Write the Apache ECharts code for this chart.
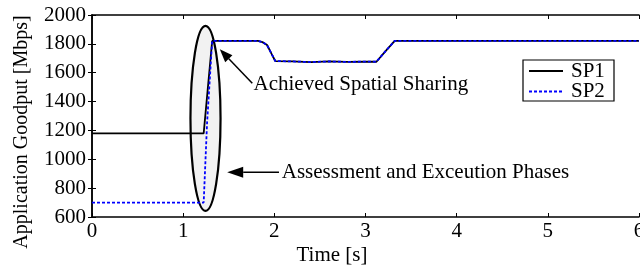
<!DOCTYPE html>
<html>
<head>
<meta charset="utf-8">
<script src="https://cdn.jsdelivr.net/npm/echarts@6/dist/echarts.min.js"></script>
<style>
html, body { margin: 0; padding: 0; background: #fff; }
#main { width: 640px; height: 269px; }
</style>
</head>
<body>
<div id="main"></div>
<script>
// time samples [s] and goodput [Mbps]
var timeSP1 = [0, 1.225, 1.318, 1.82, 1.87, 1.92, 1.97, 2.01, 2.2, 2.4, 2.6, 2.8, 3.0, 3.12, 3.22, 3.32, 6];
var valSP1  = [1180, 1180, 1820, 1820, 1812, 1792, 1730, 1681, 1678, 1674, 1678, 1675, 1677, 1676, 1750, 1820, 1820];
var timeSP2 = [0, 1.225, 1.262, 1.318, 1.82, 1.87, 1.92, 1.97, 2.01, 2.2, 2.4, 2.6, 2.8, 3.0, 3.12, 3.22, 3.32, 6];
var valSP2  = [700, 700, 1250, 1820, 1820, 1812, 1792, 1730, 1681, 1678, 1674, 1678, 1675, 1677, 1676, 1750, 1820, 1820];
var seriesNames = ['SP1', 'SP2'];

var FONT = 'Liberation Serif';
var TXT = '21px "Liberation Serif"';

function zip(xs, ys) {
    var out = [];
    for (var i = 0; i < xs.length; i++) out.push([xs[i], ys[i]]);
    return out;
}

var chart = echarts.init(document.getElementById('main'));

var axisBase = {
    axisLine: { show: true, lineStyle: { color: '#000', width: 1.5 } },
    axisTick: { show: true, inside: true, length: 4, lineStyle: { color: '#000', width: 1 } },
    splitLine: { show: false }
};
var plain = function (v) { return String(v); };

chart.setOption({
    animation: false,
    backgroundColor: '#fff',
    grid: { left: 92, right: 1, top: 15, bottom: 52, outerBoundsMode: 'none', containLabel: false },
    xAxis: [
        Object.assign({
            type: 'value', min: 0, max: 6, interval: 1, position: 'bottom',
            axisLabel: { fontFamily: FONT, fontSize: 21, color: '#000', margin: 4, formatter: plain }
        }, axisBase),
        Object.assign({
            type: 'value', min: 0, max: 6, interval: 1, position: 'top',
            axisLabel: { show: false }
        }, axisBase)
    ],
    yAxis: [
        Object.assign({
            type: 'value', min: 600, max: 2000, interval: 200, position: 'left',
            axisLabel: { fontFamily: FONT, fontSize: 21, color: '#000', margin: 6, formatter: plain }
        }, axisBase),
        Object.assign({
            type: 'value', min: 600, max: 2000, interval: 200, position: 'right',
            axisLabel: { show: false }
        }, axisBase)
    ],
    series: [
        {
            name: seriesNames[0], type: 'line', symbol: 'none', z: 3,
            data: zip(timeSP1, valSP1),
            lineStyle: { color: '#000', width: 1.8 }
        },
        {
            name: seriesNames[1], type: 'line', symbol: 'none', z: 4,
            data: zip(timeSP2, valSP2),
            lineStyle: { color: '#0000ff', width: 1.8, type: [3, 2] }
        }
    ]
});

// annotations placed in data coordinates
function px(x, y) { return chart.convertToPixel({ gridIndex: 0 }, [x, y]); }

function arrow(from, to, headLen, headHalf) {
    var a = px(from[0], from[1]), b = px(to[0], to[1]);
    var dx = b[0] - a[0], dy = b[1] - a[1];
    var len = Math.sqrt(dx * dx + dy * dy);
    var ux = dx / len, uy = dy / len;
    var bx = b[0] - ux * headLen, by = b[1] - uy * headLen;
    return [
        { type: 'line', z: 10, shape: { x1: a[0], y1: a[1], x2: bx, y2: by },
          style: { stroke: '#000', lineWidth: 1.5 } },
        { type: 'polygon', z: 10,
          shape: { points: [[b[0], b[1]],
                            [bx - uy * headHalf, by + ux * headHalf],
                            [bx + uy * headHalf, by - ux * headHalf]] },
          style: { fill: '#000' } }
    ];
}

var eC = px(1.245, 1283), eTop = px(1.245, 1924), eRight = px(1.41, 1283);
var t1 = px(1.772, 1515), t2 = px(2.081, 910);

var graphics = [
    { type: 'ellipse', z: 1,
      shape: { cx: eC[0], cy: eC[1], rx: eRight[0] - eC[0], ry: eC[1] - eTop[1] },
      style: { fill: '#f2f2f2', stroke: '#000', lineWidth: 2.2 } },
    { type: 'text', z: 10, x: t1[0], y: t1[1],
      style: { text: 'Achieved Spatial Sharing', font: TXT, fill: '#000',
               textAlign: 'left', textVerticalAlign: 'middle' } },
    { type: 'text', z: 10, x: t2[0], y: t2[1],
      style: { text: 'Assessment and Exceution Phases', font: TXT, fill: '#000',
               textAlign: 'left', textVerticalAlign: 'middle' } },
    { type: 'text', z: 10, x: 332, y: 255,
      style: { text: 'Time [s]', font: TXT, fill: '#000',
               textAlign: 'center', textVerticalAlign: 'middle' } },
    { type: 'text', z: 10, x: 22, y: 132, rotation: Math.PI / 2,
      style: { text: 'Application Goodput [Mbps]', font: '20px "Liberation Serif"', fill: '#000',
               textAlign: 'center', textVerticalAlign: 'middle' } },
    // legend box
    { type: 'rect', z: 10, shape: { x: 523, y: 60, width: 91, height: 41 },
      style: { fill: '#fff', stroke: '#000', lineWidth: 1.2 } },
    { type: 'line', z: 11, shape: { x1: 529, y1: 71, x2: 563, y2: 71 },
      style: { stroke: '#000', lineWidth: 1.8 } },
    { type: 'line', z: 11, shape: { x1: 529, y1: 91.5, x2: 563, y2: 91.5 },
      style: { stroke: '#0000ff', lineWidth: 1.8, lineDash: [3, 2] } },
    { type: 'text', z: 11, x: 571, y: 71,
      style: { text: seriesNames[0], font: TXT, fill: '#000', textAlign: 'left', textVerticalAlign: 'middle' } },
    { type: 'text', z: 11, x: 571, y: 91.5,
      style: { text: seriesNames[1], font: TXT, fill: '#000', textAlign: 'left', textVerticalAlign: 'middle' } }
];
graphics = graphics.concat(arrow([1.758, 1527], [1.402, 1762], 13, 5));
graphics = graphics.concat(arrow([2.051, 910], [1.483, 910], 16, 5.5));

chart.setOption({ graphic: graphics });
</script>
</body>
</html>
